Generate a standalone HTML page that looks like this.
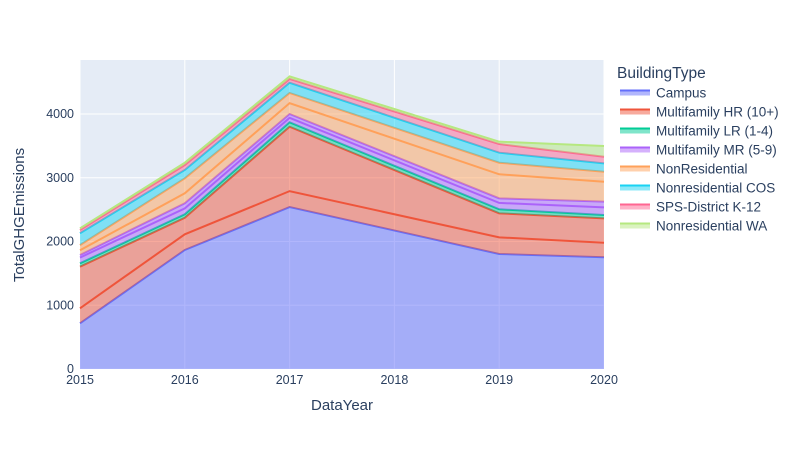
<!DOCTYPE html>
<html><head><meta charset="utf-8">
<style>
html,body{margin:0;padding:0;background:#fff;}
svg text{font-family:"Liberation Sans",sans-serif;}
</style></head>
<body>
<svg id="chart" width="800" height="450" xmlns="http://www.w3.org/2000/svg">
<rect x="80" y="60" width="524" height="309" fill="#E5ECF6"/>
<g id="grid"></g>
<g id="areas"></g>
<g id="axes"></g>
<g id="legend"></g>
</svg>
<script>
const years = [2015, 2016, 2017, 2019, 2020];
const traceNames = ["Campus","Multifamily HR (10+)","Multifamily HR (10+)","Multifamily LR (1-4)","Multifamily MR (5-9)","Multifamily MR (5-9)","NonResidential","NonResidential","Nonresidential COS","SPS-District K-12","Nonresidential WA"];
const campus = [716,1867,2540,1804,1752];
const mfhrA = [236,246,250,261,229];
const mfhrB = [653,260,1010,377,382];
const mflr = [53,54,70,63,53];
const mfmrA = [90,93,70,100,120];
const mfmrB = [40,80,60,72,89];
const nonresA = [75,156,170,377,313];
const nonresB = [80,235,160,182,157];
const nrcos = [187,131,160,157,131];
const sps = [50,78,60,136,104];
const nrwa = [27,36,40,37,168];
const series = [campus,mfhrA,mfhrB,mflr,mfmrA,mfmrB,nonresA,nonresB,nrcos,sps,nrwa];
const legendNames = ["Campus","Multifamily HR (10+)","Multifamily LR (1-4)","Multifamily MR (5-9)","NonResidential","Nonresidential COS","SPS-District K-12","Nonresidential WA"];
const yTicks = [0,1000,2000,3000,4000];
const xTicks = [2015,2016,2017,2018,2019,2020];

const colorMap = {"Campus":"#636efa","Multifamily HR (10+)":"#EF553B","Multifamily LR (1-4)":"#00cc96","Multifamily MR (5-9)":"#ab63fa","NonResidential":"#FFA15A","Nonresidential COS":"#19d3f3","SPS-District K-12":"#FF6692","Nonresidential WA":"#B6E880"};
const NS="http://www.w3.org/2000/svg";
const X0=80,X1=604,Y0=369,YPER=63.75/1000;
const xs=y=>X0+(y-2015)/(2020-2015)*(X1-X0);
const ys=v=>Y0-v*YPER;
function mk(tag,attrs,parent){const e=document.createElementNS(NS,tag);for(const k in attrs)e.setAttribute(k,attrs[k]);parent.appendChild(e);return e;}

const grid=document.getElementById('grid');
xTicks.forEach(t=>{const l=mk('line',{x1:xs(t),x2:xs(t),y1:60,y2:369,stroke:'#fff','stroke-width':1},grid);

});
yTicks.forEach(t=>{const l=mk('line',{x1:80,x2:604,y1:ys(t),y2:ys(t),stroke:'#fff','stroke-width':1},grid);

});

const areas=document.getElementById('areas');
let base=years.map(()=>0);
series.forEach((s,i)=>{
  const top=base.map((b,j)=>b+s[j]);
  const c=colorMap[traceNames[i]];
  let d='M'+years.map((y,j)=>xs(y)+','+ys(top[j])).join(' L');
  for(let j=years.length-1;j>=0;j--)d+=' L'+xs(years[j])+','+ys(base[j]);
  d+='Z';
  const a=mk('path',{d:d,fill:c,'fill-opacity':0.5,stroke:'none'},areas);
  
  
  const l=mk('polyline',{points:years.map((y,j)=>xs(y)+','+ys(top[j])).join(' '),fill:'none',stroke:c,'stroke-width':2},areas);
  
  
  base=top;
});

const axes=document.getElementById('axes');
yTicks.forEach(t=>{const e=mk('text',{x:74,y:ys(t)+4,'text-anchor':'end','font-size':12.5,fill:'#2a3f5f'},axes);e.textContent=t;

});
xTicks.forEach(t=>{const e=mk('text',{x:xs(t),y:384,'text-anchor':'middle','font-size':12.5,fill:'#2a3f5f'},axes);e.textContent=t;

});
let e=mk('text',{x:342,y:410,'text-anchor':'middle','font-size':15,fill:'#2a3f5f'},axes);e.textContent='DataYear';


e=mk('text',{x:0,y:0,'text-anchor':'middle','font-size':15,fill:'#2a3f5f',transform:'translate(24,215) rotate(-90)'},axes);e.textContent='TotalGHGEmissions';



const lg=document.getElementById('legend');
e=mk('text',{x:617,y:78,'font-size':15.5,fill:'#2a3f5f'},lg);e.textContent='BuildingType';


legendNames.forEach((n,i)=>{
  const cy=92.5+i*19;const c=colorMap[n];
  const g=mk('g',{},lg);
  
  
  mk('rect',{x:620,y:cy-3,width:30,height:6,fill:c,'fill-opacity':0.5},g);
  mk('line',{x1:620,x2:650,y1:cy-2,y2:cy-2,stroke:c,'stroke-width':2},g);
  const t=mk('text',{x:656,y:cy+5,'font-size':13.5,fill:'#2a3f5f'},g);t.textContent=n;
});
</script>
</body></html>
